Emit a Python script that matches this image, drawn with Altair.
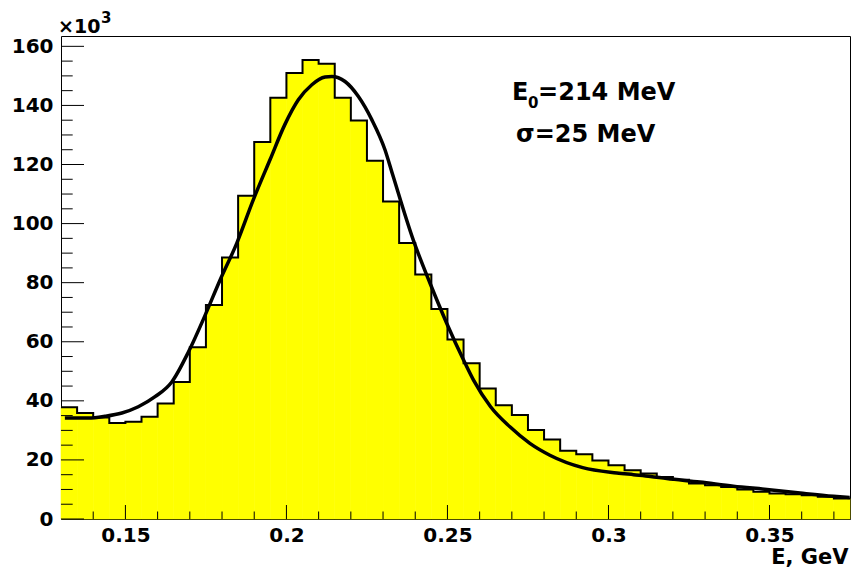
import altair as alt
import pandas as pd

# Histogram bins (GeV) and contents (x10^3)
bin_lo = [0.130, 0.135, 0.140, 0.145, 0.150, 0.155, 0.160, 0.165, 0.170, 0.175,
          0.180, 0.185, 0.190, 0.195, 0.200, 0.205, 0.210, 0.215, 0.220, 0.225,
          0.230, 0.235, 0.240, 0.245, 0.250, 0.255, 0.260, 0.265, 0.270, 0.275,
          0.280, 0.285, 0.290, 0.295, 0.300, 0.305, 0.310, 0.315, 0.320, 0.325,
          0.330, 0.335, 0.340, 0.345, 0.350, 0.355, 0.360, 0.365, 0.370]
bin_hi = [0.135, 0.140, 0.145, 0.150, 0.155, 0.160, 0.165, 0.170, 0.175, 0.180,
          0.185, 0.190, 0.195, 0.200, 0.205, 0.210, 0.215, 0.220, 0.225, 0.230,
          0.235, 0.240, 0.245, 0.250, 0.255, 0.260, 0.265, 0.270, 0.275, 0.280,
          0.285, 0.290, 0.295, 0.300, 0.305, 0.310, 0.315, 0.320, 0.325, 0.330,
          0.335, 0.340, 0.345, 0.350, 0.355, 0.360, 0.365, 0.370, 0.375]
counts = [37.8, 35.9, 34.4, 32.5, 32.9, 34.6, 39.1, 46.4, 58.1, 72.4,
          88.5, 109.4, 127.6, 142.6, 151.0, 155.4, 154.1, 142.6, 134.9, 121.3,
          107.5, 93.4, 82.8, 71.1, 60.8, 52.7, 44.2, 38.5, 35.2, 30.1,
          26.9, 23.1, 21.9, 19.8, 18.2, 16.5, 15.4, 14.2, 13.3, 12.0,
          11.4, 10.8, 10.0, 9.2, 8.6, 8.4, 8.0, 7.5, 6.9]

# Fitted curve
fit_x = [0.1312, 0.1385, 0.1437, 0.1489, 0.1540, 0.1592, 0.1644, 0.1696, 0.1748,
         0.1794, 0.1846, 0.1897, 0.1949, 0.1995, 0.2037, 0.2079, 0.2120, 0.2141,
         0.2182, 0.2223, 0.2265, 0.2306, 0.2330, 0.2394, 0.2446, 0.2498, 0.2550,
         0.2581, 0.2634, 0.2694, 0.2756, 0.2818, 0.2920, 0.3026, 0.3078, 0.3130,
         0.3181, 0.3284, 0.3388, 0.3492, 0.3595, 0.3699, 0.3749]
fit_y = [34.2, 34.2, 34.8, 35.9, 38.0, 41.4, 46.4, 56.6, 69.1,
         80.9, 93.4, 108.0, 121.6, 133.5, 141.9, 147.0, 149.6, 149.8,
         148.1, 143.1, 135.2, 125.0, 116.5, 94.4, 79.8, 66.2, 53.8,
         47.0, 38.0, 31.2, 25.6, 21.6, 17.4, 15.6, 15.0, 14.4,
         13.7, 12.5, 11.1, 10.0, 8.8, 7.7, 7.3]

x_major = [0.15, 0.20, 0.25, 0.30, 0.35]
x_minor = [0.14, 0.16, 0.17, 0.18, 0.19, 0.21, 0.22, 0.23, 0.24, 0.26, 0.27,
           0.28, 0.29, 0.31, 0.32, 0.33, 0.34, 0.36, 0.37]
y_major = [0, 20, 40, 60, 80, 100, 120, 140, 160]
y_minor = [5, 10, 15, 25, 30, 35, 45, 50, 55, 65, 70, 75, 85, 90, 95,
           105, 110, 115, 125, 130, 135, 145, 150, 155]

FONT = "DejaVu Sans"

xs = alt.Scale(domain=[0.13, 0.375], nice=False, zero=False)
ys = alt.Scale(domain=[0, 163.5], nice=False, zero=False)

xaxis = alt.Axis(values=x_major, format="~g", ticks=False, tickSize=0, domain=False,
                 grid=False, labelPadding=6, labelFlush=False, labelOverlap=False,
                 title="E, GeV", titleAnchor="end", titleAlign="right",
                 titleBaseline="alphabetic", titleX=787, titleY=44,
                 titleFont=FONT, titleFontSize=21, titleFontWeight="bold",
                 titleColor="black")
yaxis = alt.Axis(values=y_major, format="d", ticks=False, tickSize=0, domain=False,
                 grid=False, labelPadding=8, labelFlush=False, labelOverlap=False,
                 title="")

hist = pd.DataFrame({"lo": bin_lo, "hi": bin_hi, "v": counts})
step = pd.DataFrame({"x": bin_lo + [bin_hi[-1]], "v": counts + [counts[-1]]})
fit = pd.DataFrame({"x": fit_x, "v": fit_y})

fill = alt.Chart(hist).mark_rect(color="#ffff00", stroke="#ffff00", strokeWidth=0.6).encode(
    x=alt.X("lo:Q", scale=xs, axis=xaxis),
    x2="hi:Q",
    y=alt.Y("v:Q", scale=ys, axis=yaxis),
    y2=alt.datum(0),
)

outline = alt.Chart(step).mark_line(interpolate="step-after", color="black", strokeWidth=2).encode(
    x=alt.X("x:Q", scale=xs, axis=xaxis),
    y=alt.Y("v:Q", scale=ys, axis=yaxis),
)

curve = alt.Chart(fit).mark_line(interpolate="monotone", color="black", strokeWidth=3.5).encode(
    x=alt.X("x:Q", scale=xs, axis=xaxis),
    y=alt.Y("v:Q", scale=ys, axis=yaxis),
)

def yticks(vals, length):
    return alt.Chart(pd.DataFrame({"v": vals})).mark_rule(color="black", strokeWidth=1).encode(
        y=alt.Y("v:Q", scale=ys, axis=yaxis),
        x=alt.value(0),
        x2=alt.value(length),
    )

def xticks(vals, length):
    return alt.Chart(pd.DataFrame({"x": vals})).mark_rule(color="black", strokeWidth=1).encode(
        x=alt.X("x:Q", scale=xs, axis=xaxis),
        y=alt.value(483),
        y2=alt.value(483 - length),
    )

ann = pd.DataFrame({
    "x": [0.27006, 0.27503, 0.27814, 0.2713],
    "v": [141.8, 139.1, 141.8, 127.7],
    "t": ["E", "0", "=214 MeV", "σ=25 MeV"],
    "s": [24, 15, 24, 24],
})
labels = alt.Chart(ann).mark_text(align="left", baseline="alphabetic", font=FONT,
                                  fontWeight="bold", color="black").encode(
    x=alt.X("x:Q", scale=xs, axis=xaxis),
    y=alt.Y("v:Q", scale=ys, axis=yaxis),
    text="t:N",
    size=alt.Size("s:Q", scale=None, legend=None),
)

exp_df = pd.DataFrame({"t": ["×10", "3"], "px": [-3, 40], "py": [-3, -13], "s": [19, 15]})
expo = alt.Chart(exp_df).mark_text(align="left", baseline="alphabetic", font=FONT,
                                   fontWeight="bold", color="black").encode(
    x=alt.X("px:Q", scale=None, axis=None),
    y=alt.Y("py:Q", scale=None, axis=None),
    text="t:N",
    size=alt.Size("s:Q", scale=None, legend=None),
)

chart = alt.layer(
    fill, outline, curve,
    yticks(y_major, 23), yticks(y_minor, 11.7),
    xticks(x_major, 14), xticks(x_minor, 7.5),
    labels, expo,
).resolve_scale(x="shared", y="shared").properties(
    width=789, height=483,
    autosize=alt.AutoSizeParams(type="none"),
    padding={"left": 61, "top": 36, "right": 2, "bottom": 51},
    background="white",
).configure_view(
    stroke="black", strokeWidth=1
).configure_axis(
    labelFont=FONT, labelFontSize=20, labelFontWeight="bold", labelColor="black"
)

chart.save("out.html", embed_options={"renderer": "svg", "actions": False})
